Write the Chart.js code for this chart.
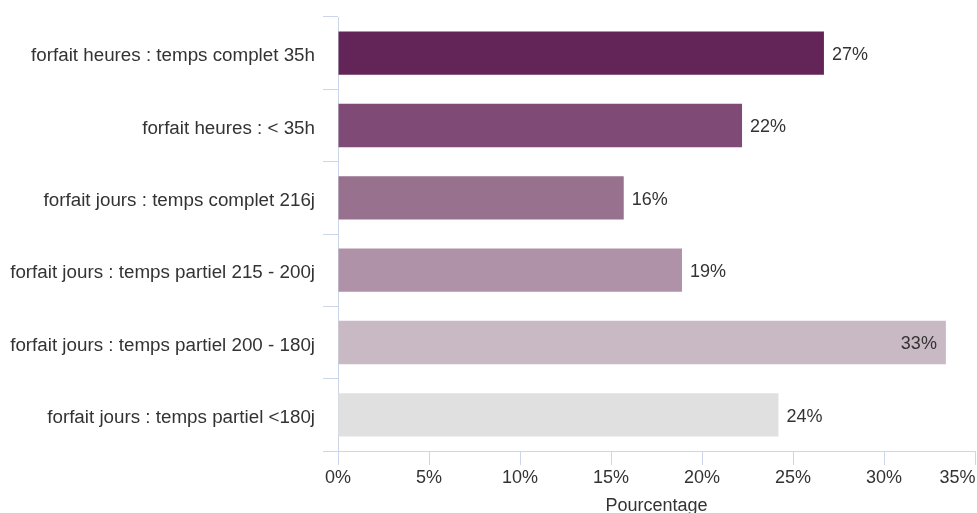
<!DOCTYPE html>
<html>
<head>
<meta charset="utf-8">
<script src="https://cdn.jsdelivr.net/npm/chart.js@4"></script>
<style>
  html, body { margin: 0; padding: 0; background: #fff; }
</style>
</head>
<body>
<canvas id="barChart" width="977" height="513"></canvas>
<script>
const categories = [
    'forfait heures : temps complet 35h',
    'forfait heures : < 35h',
    'forfait jours : temps complet 216j',
    'forfait jours : temps partiel 215 - 200j',
    'forfait jours : temps partiel 200 - 180j',
    'forfait jours : temps partiel <180j'
];
const percentages = [26.7, 22.2, 15.7, 18.9, 33.4, 24.2];
const barColors = ['#632457', '#7f4a75', '#98718e', '#af92a8', '#c8b9c4', '#e0e0e0'];
const xTicks = [0, 5, 10, 15, 20, 25, 30, 35];
const xTitle = 'Pourcentage';

const FONT = 'Liberation Sans, Arial, sans-serif';
const AXIS_COLOR = '#ccd6eb';

// simple data labels: outside the bar, or inside when it would overflow
const barLabels = {
    id: 'barLabels',
    afterDatasetsDraw(chart) {
        const ctx = chart.ctx;
        const area = chart.chartArea;
        const meta = chart.getDatasetMeta(0);
        ctx.save();
        ctx.font = '18px ' + FONT;
        ctx.fillStyle = '#333333';
        ctx.textBaseline = 'middle';
        meta.data.forEach((bar, i) => {
            const text = Math.round(percentages[i]) + '%';
            const w = ctx.measureText(text).width;
            const y = bar.y + 2;
            if (bar.x + 8 + w > area.right) {
                ctx.textAlign = 'right';
                ctx.fillText(text, bar.x - 9, y);
            } else {
                ctx.textAlign = 'left';
                ctx.fillText(text, bar.x + 8, y);
            }
        });
        ctx.restore();
    }
};

const ctx = document.getElementById('barChart').getContext('2d');
new Chart(ctx, {
    type: 'bar',
    data: {
        labels: categories,
        datasets: [{
            data: percentages,
            backgroundColor: barColors,
            borderWidth: 0,
            categoryPercentage: 1,
            barPercentage: 0.6
        }]
    },
    plugins: [barLabels],
    options: {
        indexAxis: 'y',
        responsive: false,
        animation: false,
        layout: { padding: { top: 17, right: 2, left: 0, bottom: 0 } },
        plugins: {
            legend: { display: false },
            tooltip: { enabled: false }
        },
        scales: {
            x: {
                min: 0,
                max: 35,
                afterBuildTicks(scale) {
                    scale.ticks = xTicks.map(v => ({ value: v }));
                },
                afterFit(scale) {
                    scale.height = 62;
                    scale.paddingRight = 0;
                    scale.paddingLeft = 0;
                },
                border: { display: true, color: AXIS_COLOR, width: 1 },
                grid: {
                    display: true,
                    drawOnChartArea: false,
                    drawTicks: true,
                    tickLength: 14,
                    color: AXIS_COLOR
                },
                ticks: {
                    padding: 2,
                    maxRotation: 0,
                    autoSkip: false,
                    color: '#333333',
                    font: { family: FONT, size: 18 },
                    callback: v => v === 35 ? '35%' + '\u00a0'.repeat(7) : v + '%'
                },
                title: {
                    display: true,
                    text: xTitle,
                    color: '#333333',
                    font: { family: FONT, size: 18, lineHeight: 0.8 },
                    padding: { top: 0, bottom: 0 }
                }
            },
            y: {
                afterFit(scale) {
                    scale.width = 338;
                    scale.paddingTop = 0;
                    scale.paddingBottom = 0;
                },
                border: { display: true, color: AXIS_COLOR, width: 1 },
                grid: {
                    display: true,
                    offset: true,
                    drawOnChartArea: false,
                    drawTicks: true,
                    tickLength: 15,
                    color: AXIS_COLOR
                },
                ticks: {
                    padding: 8,
                    labelOffset: 3,
                    autoSkip: false,
                    color: '#333333',
                    font: { family: FONT, size: 18.8 }
                }
            }
        }
    }
});
</script>
</body>
</html>
